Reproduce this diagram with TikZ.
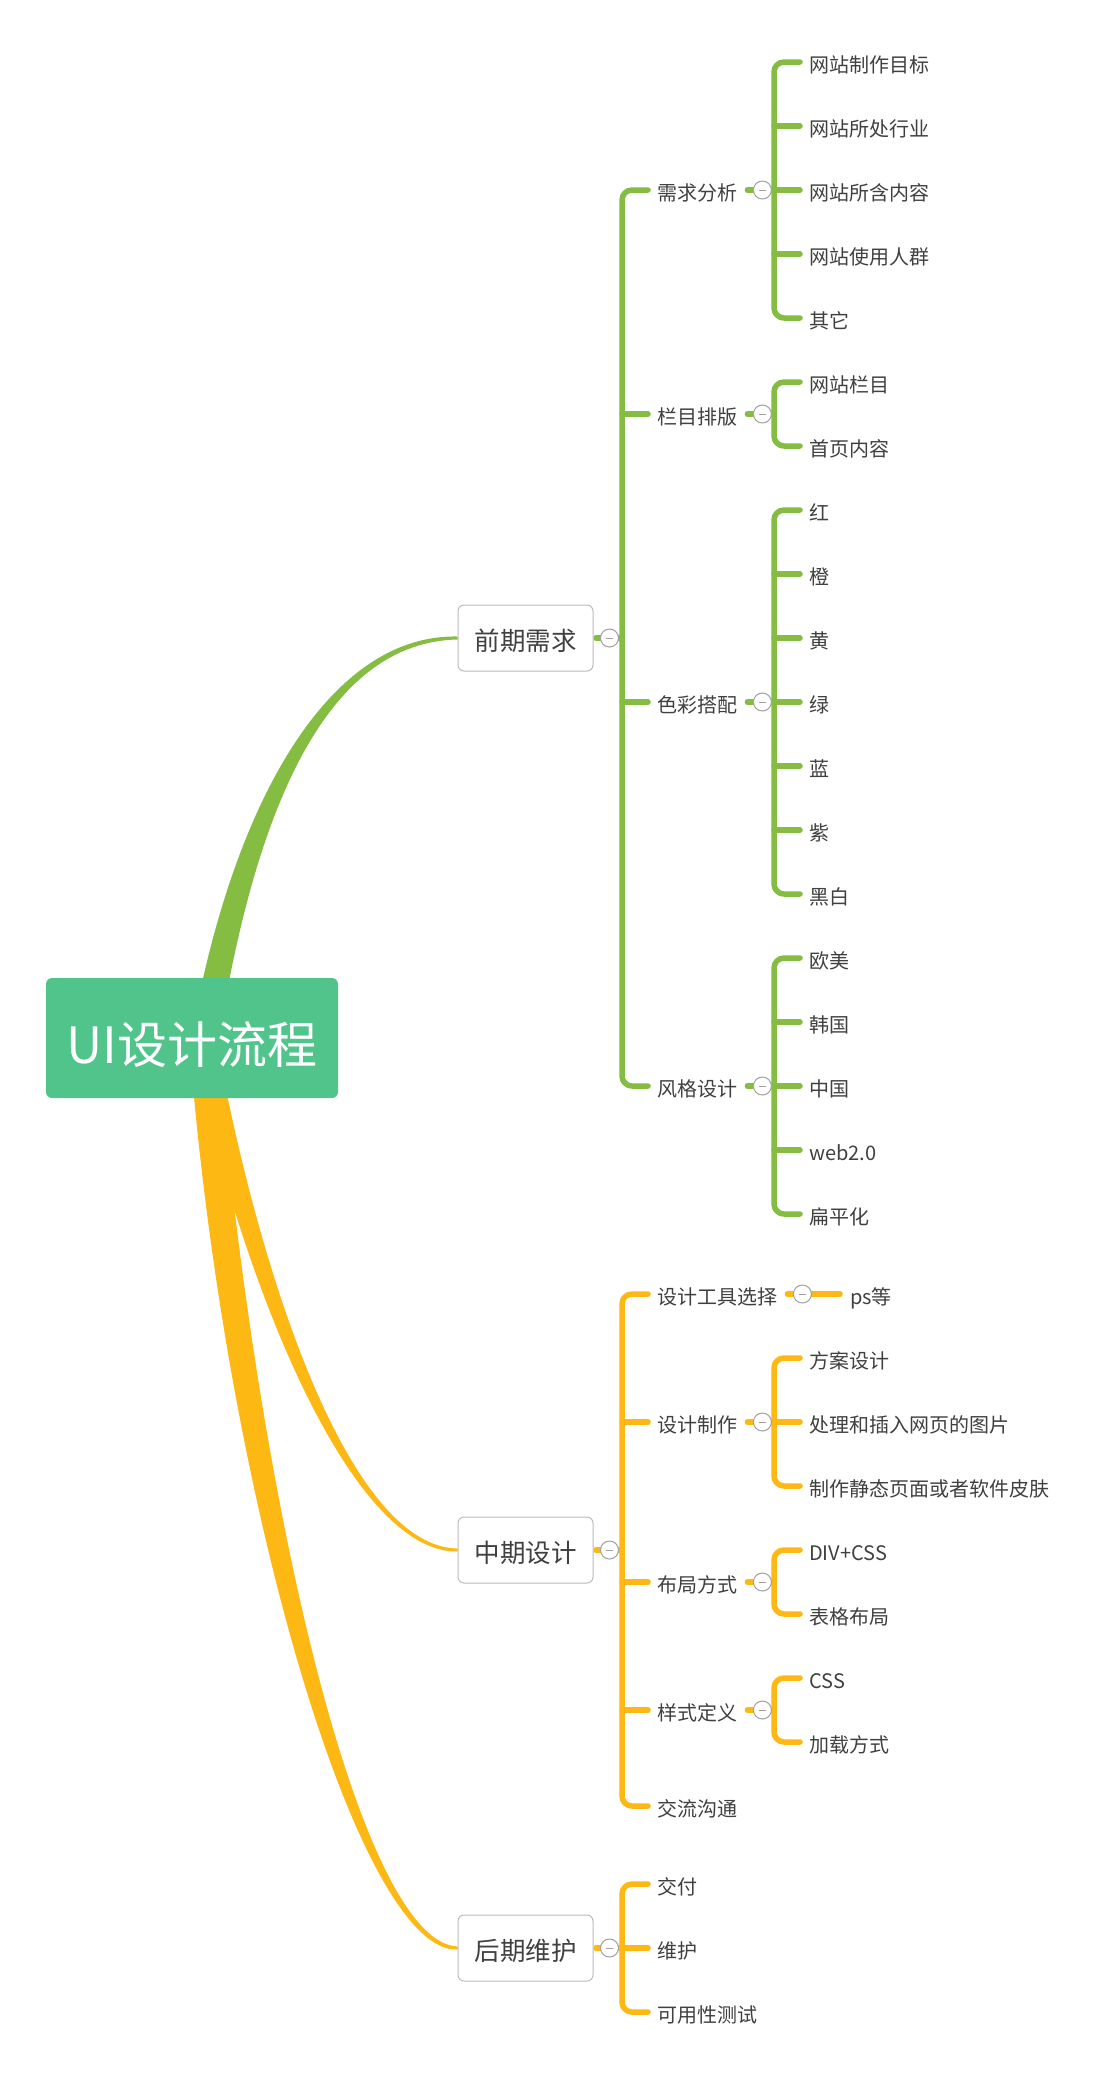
\documentclass[tikz,border=0pt]{standalone}
\usepackage{fontspec}
\setmainfont{Noto Sans CJK SC}
\usetikzlibrary{calc}
\pgfdeclarelayer{back}
\pgfdeclarelayer{bg}
\pgfsetlayers{back,bg,main}
\definecolor{gbr}{HTML}{84BD41}
\definecolor{obr}{HTML}{FDB813}
\definecolor{rootc}{HTML}{50C48B}
\definecolor{txt}{HTML}{404040}
\definecolor{bord}{HTML}{BBBBBB}
\definecolor{circ}{HTML}{A0A0A0}
\tikzset{
  rootbox/.style={rectangle, rounded corners=6pt, fill=rootc, text=white,
    minimum width=292pt, minimum height=120pt, inner sep=0pt,
    font=\fontsize{50pt}{60pt}\selectfont, text height=57.5pt, text depth=6pt},
  mainbox/.style={rectangle, rounded corners=6pt, draw=bord, line width=1pt, fill=white,
    text=txt, minimum width=135pt, minimum height=66pt, inner sep=0pt,
    font=\fontsize{25.5pt}{30pt}\selectfont, text height=27.1pt, text depth=3pt},
  subtext/.style={anchor=west, inner sep=0pt, text=txt,
    font=\fontsize{20pt}{24pt}\selectfont, text height=23.4pt, text depth=2.4pt},
  fold/.style={circle, draw=circ, line width=1pt, fill=white, minimum size=18pt, inner sep=0pt,
    path picture={\draw[circ, line width=1pt]
      ([xshift=-3.8pt]path picture bounding box.center) -- ([xshift=3.8pt]path picture bounding box.center);}},
  br/.style={line width=5.5pt, line cap=round, line join=round, rounded corners=10pt},
}
\begin{document}
\begin{tikzpicture}[x=1pt,y=-1pt]
\begin{pgfonlayer}{back}
\fill[white] (0,0) rectangle (1109,2088);
\end{pgfonlayer}
\useasboundingbox (0,0) rectangle (1109,2088);

% ---------- nodes ----------
\node[rootbox] (R) at (192,1038) {UI设计流程};
\node[mainbox] (A) at (525.5,638) {前期需求};
\node[mainbox] (B) at (525.5,1550) {中期设计};
\node[mainbox] (C) at (525.5,1948) {后期维护};

\node[subtext] (A1) at (657,190) {需求分析};
\node[subtext] (A2) at (657,414) {栏目排版};
\node[subtext] (A3) at (657,702) {色彩搭配};
\node[subtext] (A4) at (657,1086) {风格设计};

\node[subtext] (A11) at (809,62) {网站制作目标};
\node[subtext] (A12) at (809,126) {网站所处行业};
\node[subtext] (A13) at (809,190) {网站所含内容};
\node[subtext] (A14) at (809,254) {网站使用人群};
\node[subtext] (A15) at (809,318) {其它};
\node[subtext] (A21) at (809,382) {网站栏目};
\node[subtext] (A22) at (809,446) {首页内容};
\node[subtext] (A31) at (809,510) {红};
\node[subtext] (A32) at (809,574) {橙};
\node[subtext] (A33) at (809,638) {黄};
\node[subtext] (A34) at (809,702) {绿};
\node[subtext] (A35) at (809,766) {蓝};
\node[subtext] (A36) at (809,830) {紫};
\node[subtext] (A37) at (809,894) {黑白};
\node[subtext] (A41) at (809,958) {欧美};
\node[subtext] (A42) at (809,1022) {韩国};
\node[subtext] (A43) at (809,1086) {中国};
\node[subtext] (A44) at (809,1150) {web2.0};
\node[subtext] (A45) at (809,1214) {扁平化};

\node[subtext] (B1) at (657,1294) {设计工具选择};
\node[subtext] (B2) at (657,1422) {设计制作};
\node[subtext] (B3) at (657,1582) {布局方式};
\node[subtext] (B4) at (657,1710) {样式定义};
\node[subtext] (B5) at (657,1806) {交流沟通};

\node[subtext] (B11) at (850,1294) {ps等};
\node[subtext] (B21) at (809,1358) {方案设计};
\node[subtext] (B22) at (809,1422) {处理和插入网页的图片};
\node[subtext] (B23) at (809,1486) {制作静态页面或者软件皮肤};
\node[subtext] (B31) at (809,1550) {DIV+CSS};
\node[subtext] (B32) at (809,1614) {表格布局};
\node[subtext] (B41) at (809,1678) {CSS};
\node[subtext] (B42) at (809,1742) {加载方式};

\node[subtext] (C1) at (657,1884) {交付};
\node[subtext] (C2) at (657,1948) {维护};
\node[subtext] (C3) at (657,2012) {可用性测试};

% fold circles
\node[fold] (Af) at ($(A.east)+(16,0)$) {};
\node[fold] (Bf) at ($(B.east)+(16,0)$) {};
\node[fold] (Cf) at ($(C.east)+(16,0)$) {};
\node[fold] (A1f) at ($(A1.east)+(25,0)$) {};
\node[fold] (A2f) at ($(A2.east)+(25,0)$) {};
\node[fold] (A3f) at ($(A3.east)+(25,0)$) {};
\node[fold] (A4f) at ($(A4.east)+(25,0)$) {};
\node[fold] (B1f) at ($(B1.east)+(25,0)$) {};
\node[fold] (B2f) at ($(B2.east)+(25,0)$) {};
\node[fold] (B3f) at ($(B3.east)+(25,0)$) {};
\node[fold] (B4f) at ($(B4.east)+(25,0)$) {};

% bus coordinates
\coordinate (Ab) at ($(A1.west)+(-35,0)$);
\coordinate (Bb) at ($(B1.west)+(-35,0)$);
\coordinate (Cb) at ($(C1.west)+(-35,0)$);
\coordinate (A1b) at ($(A11.west)+(-35,0)$);
\coordinate (A2b) at ($(A21.west)+(-35,0)$);
\coordinate (A3b) at ($(A31.west)+(-35,0)$);
\coordinate (A4b) at ($(A41.west)+(-35,0)$);
\coordinate (B2b) at ($(B21.west)+(-35,0)$);
\coordinate (B3b) at ($(B31.west)+(-35,0)$);
\coordinate (B4b) at ($(B41.west)+(-35,0)$);

\begin{pgfonlayer}{bg}
% ---------- tapered main branches ----------
\fill[gbr] ($(R.center)+(-1,0)$) .. controls (233,800) and (330,634) .. ($(A.west)+(0,-1.5)$)
  -- ($(A.west)+(0,1.5)$) .. controls (330,642) and (257,800) .. ($(R.center)+(27,0)$) -- cycle;
\fill[obr] ($(R.center)+(-2,0)$) .. controls (240,1280) and (350,1553) .. ($(B.west)+(0,1.5)$)
  -- ($(B.west)+(0,-1.5)$) .. controls (350,1547) and (260,1280) .. ($(R.center)+(24,0)$) -- cycle;
\fill[obr] ($(R.center)+(-3,0)$) .. controls (224,1500) and (360,1954) .. ($(C.west)+(0,1.5)$)
  -- ($(C.west)+(0,-1.5)$) .. controls (360,1942) and (256,1500) .. ($(R.center)+(25,0)$) -- cycle;

% ---------- 前期需求 ----------
\draw[br,gbr] ($(A.east)+(2.5,0)$) -- (Af.center) -- (Ab |- Af.center);
\draw[br,gbr] ($(A1.west)+(-9,0)$) -- (Ab) -- (Ab |- A4.west) -- ($(A4.west)+(-9,0)$);
\foreach \n in {A2,A3} \draw[br,gbr] (Ab |- \n.west) -- ($(\n.west)+(-9,0)$);

\draw[br,gbr] ($(A1.east)+(10,0)$) -- (A1f.center) -- (A1b |- A1f.center);
\draw[br,gbr] ($(A11.west)+(-9,0)$) -- (A1b) -- (A1b |- A15.west) -- ($(A15.west)+(-9,0)$);
\foreach \n in {A12,A13,A14} \draw[br,gbr] (A1b |- \n.west) -- ($(\n.west)+(-9,0)$);

\draw[br,gbr] ($(A2.east)+(10,0)$) -- (A2f.center) -- (A2b |- A2f.center);
\draw[br,gbr] ($(A21.west)+(-9,0)$) -- (A2b) -- (A2b |- A22.west) -- ($(A22.west)+(-9,0)$);

\draw[br,gbr] ($(A3.east)+(10,0)$) -- (A3f.center) -- (A3b |- A3f.center);
\draw[br,gbr] ($(A31.west)+(-9,0)$) -- (A3b) -- (A3b |- A37.west) -- ($(A37.west)+(-9,0)$);
\foreach \n in {A32,A33,A34,A35,A36} \draw[br,gbr] (A3b |- \n.west) -- ($(\n.west)+(-9,0)$);

\draw[br,gbr] ($(A4.east)+(10,0)$) -- (A4f.center) -- (A4b |- A4f.center);
\draw[br,gbr] ($(A41.west)+(-9,0)$) -- (A4b) -- (A4b |- A45.west) -- ($(A45.west)+(-9,0)$);
\foreach \n in {A42,A43,A44} \draw[br,gbr] (A4b |- \n.west) -- ($(\n.west)+(-9,0)$);

% ---------- 中期设计 ----------
\draw[br,obr] ($(B.east)+(2.5,0)$) -- (Bf.center) -- (Bb |- Bf.center);
\draw[br,obr] ($(B1.west)+(-9,0)$) -- (Bb) -- (Bb |- B5.west) -- ($(B5.west)+(-9,0)$);
\foreach \n in {B2,B3,B4} \draw[br,obr] (Bb |- \n.west) -- ($(\n.west)+(-9,0)$);

\draw[br,obr] ($(B1.east)+(10,0)$) -- (B1f.center) -- ($(B11.west)+(-10,0)$);

\draw[br,obr] ($(B2.east)+(10,0)$) -- (B2f.center) -- (B2b |- B2f.center);
\draw[br,obr] ($(B21.west)+(-9,0)$) -- (B2b) -- (B2b |- B23.west) -- ($(B23.west)+(-9,0)$);
\draw[br,obr] (B2b |- B22.west) -- ($(B22.west)+(-9,0)$);

\draw[br,obr] ($(B3.east)+(10,0)$) -- (B3f.center) -- (B3b |- B3f.center);
\draw[br,obr] ($(B31.west)+(-9,0)$) -- (B3b) -- (B3b |- B32.west) -- ($(B32.west)+(-9,0)$);

\draw[br,obr] ($(B4.east)+(10,0)$) -- (B4f.center) -- (B4b |- B4f.center);
\draw[br,obr] ($(B41.west)+(-9,0)$) -- (B4b) -- (B4b |- B42.west) -- ($(B42.west)+(-9,0)$);

% ---------- 后期维护 ----------
\draw[br,obr] ($(C.east)+(2.5,0)$) -- (Cf.center) -- (Cb |- Cf.center);
\draw[br,obr] ($(C1.west)+(-9,0)$) -- (Cb) -- (Cb |- C3.west) -- ($(C3.west)+(-9,0)$);
\draw[br,obr] (Cb |- C2.west) -- ($(C2.west)+(-9,0)$);
\end{pgfonlayer}
\end{tikzpicture}
\end{document}
